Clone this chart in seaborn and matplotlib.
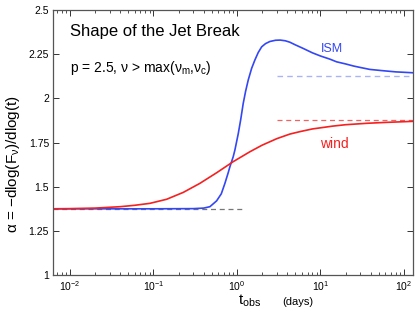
import numpy as np
import pandas as pd
import matplotlib
matplotlib.use("Agg")
import matplotlib.pyplot as plt
import seaborn as sns

# values (t in days, alpha = temporal decay index)
t_ism = [0.0063, 0.1, 0.3, 0.4, 0.475, 0.571, 0.65, 0.718, 0.787, 0.824, 0.903, 0.946,
         1.037, 1.11, 1.19, 1.27, 1.366, 1.5, 1.64, 1.8, 1.98, 2.2, 2.48, 2.9, 3.3, 3.8,
         4.3, 5.0, 6.2, 8.0, 10.0, 13.0, 15.6, 20.0, 25.0, 30.0, 39.0, 55.0, 80.0, 128.0]
alpha_ism = [1.375, 1.375, 1.376, 1.379, 1.387, 1.42, 1.46, 1.519, 1.58, 1.613, 1.67, 1.708,
             1.80, 1.88, 1.972, 2.04, 2.104, 2.17, 2.217, 2.26, 2.292, 2.31, 2.322, 2.329, 2.33, 2.326,
             2.318, 2.303, 2.283, 2.258, 2.24, 2.222, 2.207, 2.195, 2.183, 2.175, 2.164, 2.157, 2.15, 2.145]

t_wind = [0.0063, 0.01, 0.02, 0.04, 0.06, 0.091, 0.144, 0.228, 0.36, 0.571, 0.903,
          1.43, 2.0, 3.0, 4.3, 5.7, 8.0, 14.0, 20.0, 36.0, 60.0, 128.0]
alpha_wind = [1.375, 1.376, 1.379, 1.387, 1.395, 1.406, 1.429, 1.468, 1.519, 1.579, 1.642,
              1.698, 1.735, 1.772, 1.798, 1.812, 1.827, 1.843, 1.851, 1.859, 1.864, 1.870]

# asymptotes
t_pre = [0.0063, 1.2]
alpha_pre = [1.375, 1.375]
t_post = [3.0, 128.0]
alpha_ism_post = [2.125, 2.125]
alpha_wind_post = [1.875, 1.875]

yticks = [1, 1.25, 1.5, 1.75, 2, 2.25, 2.5]
ytick_labels = ["1", "1.25", "1.5", "1.75", "2", "2.25", "2.5"]

sns.set_style("ticks")
plt.rcParams['font.family'] = ['Liberation Sans', 'DejaVu Sans']
plt.rcParams['text.color'] = 'black'
plt.rcParams['mathtext.fontset'] = 'custom'
plt.rcParams['mathtext.rm'] = 'Liberation Sans'
plt.rcParams['mathtext.it'] = 'Liberation Sans'

fig = plt.figure(figsize=(4.15, 3.14), dpi=100)
ax = fig.add_axes([0.128, 0.124, 0.867, 0.844])

blue = "#3347f5"
red = "#f52020"

sns.lineplot(x=t_pre, y=alpha_pre, ax=ax, color="#777777", lw=0.9, linestyle=(0, (4, 3)))
sns.lineplot(x=t_post, y=alpha_ism_post, ax=ax, color="#aab4f5", lw=1.0, linestyle=(0, (4, 3)))
sns.lineplot(x=t_post, y=alpha_wind_post, ax=ax, color="#f56060", lw=0.9, linestyle=(0, (4, 3)))
sns.lineplot(x=t_ism, y=alpha_ism, ax=ax, color=blue, lw=1.2)
sns.lineplot(x=t_wind, y=alpha_wind, ax=ax, color=red, lw=1.2)

ax.set_xscale("log")
ax.set_xlim(0.0063, 128)
ax.set_ylim(1, 2.5)
ax.set_yticks(yticks)
ax.set_yticklabels(ytick_labels)
ax.set_xlabel("")
ax.set_ylabel("")

ax.tick_params(which="both", direction="in", top=True, right=True,
               labelsize=7.5, colors="#333333", labelcolor="black")
ax.tick_params(which="major", length=4, width=0.7, pad=3)
ax.tick_params(which="minor", length=2, width=0.6)
for s in ax.spines.values():
    s.set_color("#555555")
    s.set_linewidth(0.9)

ax.text(0.047, 0.902, "Shape of the Jet Break", transform=ax.transAxes, fontsize=12)
ax.text(0.047, 0.766, r"p = 2.5, ν > max(ν$_{m}$,ν$_{c}$)", transform=ax.transAxes, fontsize=10)
ax.text(10.1, 2.262, "ISM", color=blue, fontsize=9)
ax.text(9.9, 1.719, "wind", color=red, fontsize=10)

ax.text(-0.111, 0.419, r"α = $-$dlog(F$_{ν}$)/dlog(t)", transform=ax.transAxes,
        rotation=90, ha="center", va="center", fontsize=11)
ax.text(0.514, -0.112, r"t$_{obs}$", transform=ax.transAxes, fontsize=11, va="baseline")
ax.text(0.636, -0.112, "(days)", transform=ax.transAxes, fontsize=8, va="baseline")

fig.savefig("out.png", dpi=100)
